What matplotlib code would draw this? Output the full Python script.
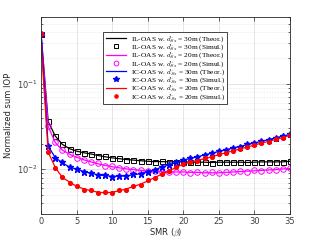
import numpy as np
import matplotlib
matplotlib.use("Agg")
import matplotlib.pyplot as plt

plt.rcParams["mathtext.fontset"] = "cm"

smr = np.arange(0, 36)

il30_theo = [0.38, 0.036, 0.0244, 0.0195, 0.0174, 0.0163, 0.0156, 0.0151, 0.0145, 0.0140,
             0.0136, 0.0133, 0.0130, 0.0128, 0.0126, 0.0124, 0.0123, 0.0123, 0.0122, 0.0122,
             0.0122, 0.0121, 0.0121, 0.0121, 0.0120, 0.0121, 0.0121, 0.0121, 0.0121, 0.0120,
             0.0121, 0.0122, 0.0122, 0.0122, 0.0122, 0.0124]
il30_sim = [0.38, 0.037, 0.0246, 0.0196, 0.0173, 0.0164, 0.0155, 0.0152, 0.0144, 0.0141,
            0.0135, 0.0134, 0.0129, 0.0129, 0.0125, 0.0125, 0.0122, 0.0124, 0.0121, 0.0123,
            0.0121, 0.0122, 0.0120, 0.0122, 0.0119, 0.0122, 0.0120, 0.0122, 0.0120, 0.0121,
            0.0120, 0.0123, 0.0121, 0.0123, 0.0121, 0.0125]

il20_theo = [0.38, 0.0316, 0.0205, 0.0167, 0.0150, 0.0138, 0.0129, 0.0122, 0.0116, 0.0111,
             0.0107, 0.0104, 0.0101, 0.0099, 0.0097, 0.0096, 0.0095, 0.0094, 0.0093, 0.0093,
             0.0093, 0.0092, 0.0092, 0.0091, 0.0091, 0.0091, 0.0092, 0.0093, 0.0094, 0.0095,
             0.0096, 0.0097, 0.0098, 0.0099, 0.0101, 0.0102]
il20_sim = [0.38, 0.0318, 0.0207, 0.0166, 0.0151, 0.0137, 0.0130, 0.0121, 0.0117, 0.0110,
            0.0108, 0.0103, 0.0102, 0.0098, 0.0098, 0.0095, 0.0096, 0.0093, 0.0094, 0.0092,
            0.0094, 0.0091, 0.0093, 0.0090, 0.0092, 0.0090, 0.0093, 0.0092, 0.0095, 0.0094,
            0.0097, 0.0096, 0.0099, 0.0098, 0.0102, 0.0103]

ic30_theo = [0.38, 0.0185, 0.0137, 0.0119, 0.0106, 0.0100, 0.0094, 0.0090, 0.0086, 0.0084,
             0.0083, 0.0083, 0.0084, 0.0086, 0.0089, 0.0093, 0.0099, 0.0106, 0.0113, 0.0120,
             0.0128, 0.0134, 0.0140, 0.0147, 0.0154, 0.0161, 0.0169, 0.0177, 0.0185, 0.0194,
             0.0203, 0.0212, 0.0222, 0.0233, 0.0244, 0.0255]
ic30_sim = [0.38, 0.0187, 0.0136, 0.0120, 0.0105, 0.0101, 0.0093, 0.0091, 0.0085, 0.0085,
            0.0082, 0.0084, 0.0083, 0.0087, 0.0088, 0.0094, 0.0098, 0.0107, 0.0112, 0.0121,
            0.0127, 0.0135, 0.0139, 0.0148, 0.0153, 0.0162, 0.0168, 0.0178, 0.0184, 0.0195,
            0.0202, 0.0213, 0.0221, 0.0234, 0.0243, 0.0256]

ic20_theo = [0.30, 0.0158, 0.0105, 0.0080, 0.0071, 0.0063, 0.0059, 0.0056, 0.0054, 0.0053,
             0.0054, 0.0056, 0.0059, 0.0063, 0.0067, 0.0073, 0.0080, 0.0088, 0.0096, 0.0105,
             0.0115, 0.0121, 0.0127, 0.0133, 0.0140, 0.0148, 0.0156, 0.0164, 0.0173, 0.0182,
             0.0192, 0.0202, 0.0212, 0.0223, 0.0235, 0.0248]
ic20_sim = [0.38, 0.0160, 0.0104, 0.0081, 0.0070, 0.0064, 0.0058, 0.0057, 0.0053, 0.0054,
            0.0053, 0.0057, 0.0058, 0.0064, 0.0066, 0.0074, 0.0079, 0.0089, 0.0095, 0.0106,
            0.0114, 0.0122, 0.0126, 0.0134, 0.0139, 0.0149, 0.0155, 0.0165, 0.0172, 0.0183,
            0.0191, 0.0203, 0.0211, 0.0224, 0.0234, 0.0249]

dsub = r"$d_{\bar{S}s}$"
labels = [
    f"IL-OAS w. {dsub} = 30m (Theor.)",
    f"IL-OAS w. {dsub} = 30m (Simul.)",
    f"IL-OAS w. {dsub} = 20m (Theor.)",
    f"IL-OAS w. {dsub} = 20m (Simul.)",
    f"IC-OAS w. {dsub} = 30m (Theor.)",
    f"IC-OAS w. {dsub} = 30m (Simul.)",
    f"IC-OAS w. {dsub} = 20m (Theor.)",
    f"IC-OAS w. {dsub} = 20m (Simul.)",
]

fig = plt.figure(figsize=(3.21, 2.41), dpi=100)
ax = fig.add_axes([0.128, 0.112, 0.775, 0.817])

lw = 0.9
ms = 3.6
ax.plot(smr, il30_theo, color="black", lw=lw, label=labels[0])
ax.plot(smr, il30_sim, ls="none", marker="s", ms=ms, mfc="none", mec="black", mew=0.7, label=labels[1])
ax.plot(smr, il20_theo, color="magenta", lw=lw, label=labels[2])
ax.plot(smr, il20_sim, ls="none", marker="o", ms=ms + 0.4, mfc="none", mec="magenta", mew=0.7, label=labels[3])
ax.plot(smr, ic30_theo, color="blue", lw=lw, label=labels[4])
ax.plot(smr, ic30_sim, ls="none", marker="*", ms=ms + 1.2, color="blue", label=labels[5])
ax.plot(smr, ic20_theo, color="red", lw=lw, label=labels[6])
ax.plot(smr, ic20_sim, ls="none", marker="o", ms=ms - 0.9, color="red", label=labels[7])

ax.set_yscale("log")
ax.set_xlim(0, 35)
ax.set_ylim(0.003, 0.6)
ax.set_xticks(range(0, 36, 5))

ax.grid(True, which="major", color="#e0e0e0", lw=0.6, ls="-")
ax.grid(True, which="minor", axis="y", color="#e6e6e6", lw=0.5, ls=(0, (2, 2)))
ax.set_axisbelow(True)

for s in ax.spines.values():
    s.set_color("#262626")
    s.set_linewidth(0.6)
ax.tick_params(which="both", direction="in", top=True, right=True, colors="#262626",
               labelcolor="#404040", labelsize=6, width=0.5, pad=2.5)
ax.tick_params(which="major", length=3)
ax.tick_params(which="minor", length=1.6)

ax.set_xlabel(r"SMR ($\beta$)", fontsize=6, color="#262626", labelpad=0.5)
ax.set_ylabel("Normalized sum IOP", fontsize=6, color="#262626", labelpad=3)

leg = ax.legend(loc="upper left", bbox_to_anchor=(0.249, 0.926),
                prop={"family": "Liberation Serif", "size": 5.3}, frameon=True, fancybox=False,
                edgecolor="#262626", framealpha=1, labelspacing=-0.2, handlelength=2.8,
                handletextpad=0.6, borderpad=0.35, borderaxespad=0, markerscale=0.85)
leg.get_frame().set_linewidth(0.6)

fig.savefig("out.png", dpi=100)
